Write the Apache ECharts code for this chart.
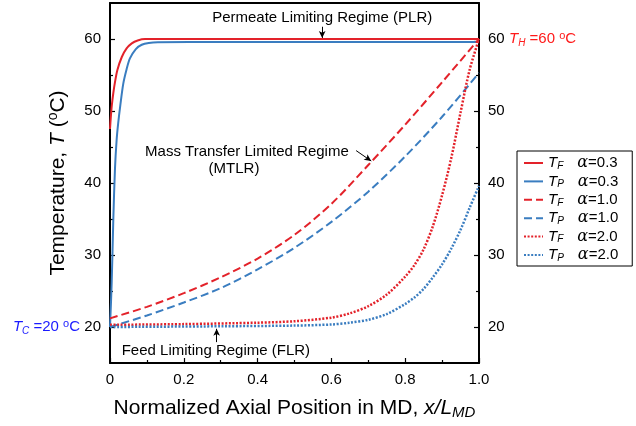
<!DOCTYPE html>
<html><head><meta charset="utf-8">
<script src="https://cdn.jsdelivr.net/npm/echarts@6/dist/echarts.min.js"></script>
<style>html,body{margin:0;padding:0;background:#fff}#c{width:636px;height:426px}</style>
</head><body><div id="c"></div>
<script>
// ---- tick labels ----
const xTickLabels = ['0', '0.2', '0.4', '0.6', '0.8', '1.0'];
const yTickValues = [20, 30, 40, 50, 60];
const yMinorValues = [25, 35, 45, 55];

// ---- series (x = x/L_MD, y = T in °C) ----
const xTF03 = [0, 0.002, 0.005, 0.009, 0.0135, 0.02, 0.032, 0.045, 0.059, 0.075, 0.095, 0.12, 0.3, 0.6, 1.0];
const yTF03 = [47.5, 49.0, 50.8, 52.5, 54.0, 55.7, 57.5, 58.7, 59.4, 59.8, 60.0, 60.0, 60.0, 60.0, 60.0];

const xTP03 = [0, 0.0045, 0.009, 0.0135, 0.018, 0.022, 0.028, 0.036, 0.045, 0.054, 0.07, 0.086, 0.105, 0.13, 0.3, 0.6, 1.0];
const yTP03 = [20, 26, 35, 42, 46, 48.2, 50.8, 53.8, 55.8, 57.3, 58.6, 59.2, 59.45, 59.55, 59.6, 59.6, 59.6];

const xTF10 = [0, 0.1, 0.2, 0.3, 0.4, 0.5, 0.6, 0.7, 0.8, 0.9, 1.0];
const yTF10 = [21.2, 22.8, 24.7, 26.9, 29.5, 32.8, 37.1, 42.5, 48.1, 54.0, 60.0];

const xTP10 = [0, 0.1, 0.2, 0.3, 0.4, 0.5, 0.6, 0.7, 0.8, 0.9, 1.0];
const yTP10 = [20.0, 21.6, 23.4, 25.4, 28.0, 31.0, 34.6, 38.8, 43.7, 49.2, 55.3];

const xTF20 = [0, 0.2, 0.4, 0.5, 0.6, 0.65, 0.7, 0.75, 0.8, 0.825, 0.85, 0.875, 0.9, 0.925, 0.95, 0.975, 1.0];
const yTF20 = [20.3, 20.4, 20.6, 20.8, 21.3, 21.9, 22.9, 24.5, 27.0, 28.6, 30.8, 34.0, 38.3, 43.5, 49.8, 55.8, 60.0];

const xTP20 = [0, 0.3, 0.5, 0.6, 0.65, 0.7, 0.75, 0.8, 0.825, 0.85, 0.875, 0.9, 0.925, 0.95, 0.975, 1.0];
const yTP20 = [20.0, 20.1, 20.2, 20.35, 20.6, 21.0, 21.8, 23.2, 24.1, 25.3, 26.9, 28.7, 30.9, 33.5, 36.6, 39.6];

// ---- legend ----
const seriesNames = ['TF03', 'TP03', 'TF10', 'TP10', 'TF20', 'TP20'];
const legendSub = ['F', 'P', 'F', 'P', 'F', 'P'];
const legendAlpha = ['0.3', '0.3', '1.0', '1.0', '2.0', '2.0'];

// ---- annotations (data coordinates) ----
const annoTexts = ['Permeate Limiting Regime (PLR)', 'Mass Transfer Limited Regime', '(MTLR)', 'Feed Limiting Regime (FLR)'];
const annoPos = [[0.575, 63.0], [0.371, 44.3], [0.336, 42.0], [0.287, 16.7]];
const arrows = [
  [[0.575, 61.7], [0.575, 60.15]],
  [[0.667, 44.5], [0.708, 43.05]],
  [[0.289, 17.9], [0.289, 19.75]]
];

const RED = '#e3222a', BLUE = '#3a7dc0';
const FONT = 'Liberation Sans';
const zip = (xs, ys) => xs.map((x, i) => [x, ys[i]]);

const defs = [
  {xs: xTF03, ys: yTF03, color: RED, dash: 'solid', w: 2},
  {xs: xTP03, ys: yTP03, color: BLUE, dash: 'solid', w: 2},
  {xs: xTF10, ys: yTF10, color: RED, dash: [8, 4], w: 2},
  {xs: xTP10, ys: yTP10, color: BLUE, dash: [8, 4], w: 2},
  {xs: xTF20, ys: yTF20, color: RED, dash: [2, 1.6], w: 2.5},
  {xs: xTP20, ys: yTP20, color: BLUE, dash: [2, 1.6], w: 2.5}
];

const series = defs.map((d, i) => ({
  name: seriesNames[i], type: 'line', xAxisIndex: 0, yAxisIndex: 0,
  data: zip(d.xs, d.ys), symbol: 'none', smooth: 0.3, silent: true,
  lineStyle: {color: d.color, width: d.w, type: d.dash},
  itemStyle: {color: d.color}, z: 3
}));
series.push({
  name: 'arrows', type: 'line', xAxisIndex: 0, yAxisIndex: 0, data: [], symbol: 'none', silent: true,
  markLine: {
    silent: true, animation: false, symbol: ['none', 'arrow'], symbolSize: [5, 7], precision: 4,
    label: {show: false}, lineStyle: {color: '#000', width: 1, type: 'solid'}, itemStyle: {color: '#000'},
    emphasis: {disabled: true},
    data: arrows.map(a => [{coord: a[0]}, {coord: a[1]}])
  }
});

const axisLine = {show: true, onZero: false, lineStyle: {color: '#000', width: 2}};
const yMain = (pos) => ({
  type: 'value', position: pos, min: 15, max: 65,
  axisLine: axisLine, splitLine: {show: false},
  axisTick: {show: true, inside: true, length: 5, customValues: yTickValues, lineStyle: {color: '#000', width: 1.2}},
  axisLabel: {show: true, customValues: yTickValues, margin: 9, fontSize: 15, color: '#000', fontFamily: FONT}
});
const yMinor = (pos) => ({
  type: 'value', position: pos, min: 15, max: 65,
  axisLine: {show: false, onZero: false}, splitLine: {show: false}, axisLabel: {show: false},
  axisTick: {show: true, inside: true, length: 3, customValues: yMinorValues, lineStyle: {color: '#000', width: 1.2}}
});

const left = yMain('left');
left.name = '{n|Temperature, }{i|T}{n| (}{p|o}{n|C)}';
left.nameLocation = 'middle';
left.nameGap = 40;
left.nameTextStyle = {
  fontFamily: FONT, fontSize: 21, color: '#000',
  rich: {
    n: {fontFamily: FONT, fontSize: 21, lineHeight: 24, color: '#000'},
    i: {fontFamily: FONT, fontSize: 21, fontStyle: 'italic', lineHeight: 24, color: '#000'},
    p: {fontFamily: FONT, fontSize: 14, lineHeight: 12, verticalAlign: 'top', color: '#000'}
  }
};

const option = {
  animation: false,
  backgroundColor: '#fff',
  grid: {left: 110, right: 157, top: 3, bottom: 63},
  xAxis: [{
    type: 'value', position: 'bottom', min: 0, max: 1, interval: 0.2,
    axisLine: axisLine, splitLine: {show: false},
    axisTick: {show: true, inside: true, length: 5, lineStyle: {color: '#000', width: 1.2}},
    minorTick: {show: true, splitNumber: 2, length: 3, lineStyle: {color: '#000', width: 1.2}},
    axisLabel: {margin: 9, fontSize: 15, color: '#000', fontFamily: FONT,
      formatter: v => xTickLabels[Math.round(v / 0.2)]},
    name: '{n|Normalized Axial Position in MD, }{i|x/L}{s|MD}',
    nameLocation: 'middle', nameGap: 33,
    nameTextStyle: {
      fontFamily: FONT, fontSize: 21, color: '#000',
      rich: {
        n: {fontFamily: FONT, fontSize: 21, lineHeight: 24, color: '#000'},
        i: {fontFamily: FONT, fontSize: 21, fontStyle: 'italic', lineHeight: 24, color: '#000'},
        s: {fontFamily: FONT, fontSize: 15, fontStyle: 'italic', lineHeight: 10, verticalAlign: 'bottom', color: '#000'}
      }
    }
  }, {
    type: 'value', position: 'top', min: 0, max: 1,
    axisLine: axisLine, axisTick: {show: false}, axisLabel: {show: false}, splitLine: {show: false}
  }],
  yAxis: [left, yMain('right'), yMinor('left'), yMinor('right')],
  legend: {
    orient: 'vertical', left: 517, top: 151,
    itemWidth: 19, itemHeight: 14, itemGap: 2.4,
    padding: [4, 14, 3, 6],
    borderColor: '#000', borderWidth: 1, borderRadius: 0, backgroundColor: '#fff',
    selectedMode: false,
    itemStyle: {opacity: 0, borderWidth: 0},
    data: seriesNames,
    formatter: name => {
      const i = seriesNames.indexOf(name);
      return '{t|T}{s|' + legendSub[i] + '}{a|α}{n|=' + legendAlpha[i] + '}';
    },
    textStyle: {
      color: '#000', fontFamily: FONT, fontSize: 15,
      rich: {
        t: {fontFamily: FONT, fontSize: 15, fontStyle: 'italic', lineHeight: 16, color: '#000'},
        s: {fontFamily: FONT, fontSize: 10, fontStyle: 'italic', lineHeight: 8, verticalAlign: 'bottom', color: '#000'},
        a: {fontFamily: 'DejaVu Serif', fontSize: 16, fontStyle: 'italic', lineHeight: 16, padding: [0, 0, 0, 14], color: '#000'},
        n: {fontFamily: FONT, fontSize: 15, lineHeight: 16, color: '#000'}
      }
    }
  },
  series: series
};

const chart = echarts.init(document.getElementById('c'), null, {renderer: 'canvas'});
chart.setOption(option);

const px = p => chart.convertToPixel({xAxisIndex: 0, yAxisIndex: 0}, p);
const graphics = annoTexts.map((t, i) => {
  const p = px(annoPos[i]);
  return {type: 'text', x: p[0], y: p[1], z: 10,
    style: {text: t, fontFamily: FONT, fontSize: 15, fill: '#000', align: 'center', verticalAlign: 'middle'}};
});
const thP = px([1, 60]);
const tcP = px([0, 20]);
const labelRich = (col, fs) => ({
  i: {fontFamily: FONT, fontSize: fs, fontStyle: 'italic', lineHeight: 18, fill: col, color: col},
  s: {fontFamily: FONT, fontSize: fs - 5, fontStyle: 'italic', lineHeight: 8, verticalAlign: 'bottom', fill: col, color: col},
  n: {fontFamily: FONT, fontSize: fs, lineHeight: 18, fill: col, color: col},
  p: {fontFamily: FONT, fontSize: fs - 4, lineHeight: 8, verticalAlign: 'top', fill: col, color: col}
});
graphics.push({type: 'text', x: thP[0] + 30, y: thP[1], z: 10,
  style: {text: '{i|T}{s|H}{n| =60 }{p|o}{n|C}', fill: '#ff1a1a', align: 'left', verticalAlign: 'middle', rich: labelRich('#ff1a1a', 15)}});
graphics.push({type: 'text', x: tcP[0] - 30, y: tcP[1], z: 10,
  style: {text: '{i|T}{s|C}{n| =20 }{p|o}{n|C}', fill: '#1a1aff', align: 'right', verticalAlign: 'middle', rich: labelRich('#1a1aff', 15)}});
chart.setOption({graphic: graphics});
</script>
</body></html>
